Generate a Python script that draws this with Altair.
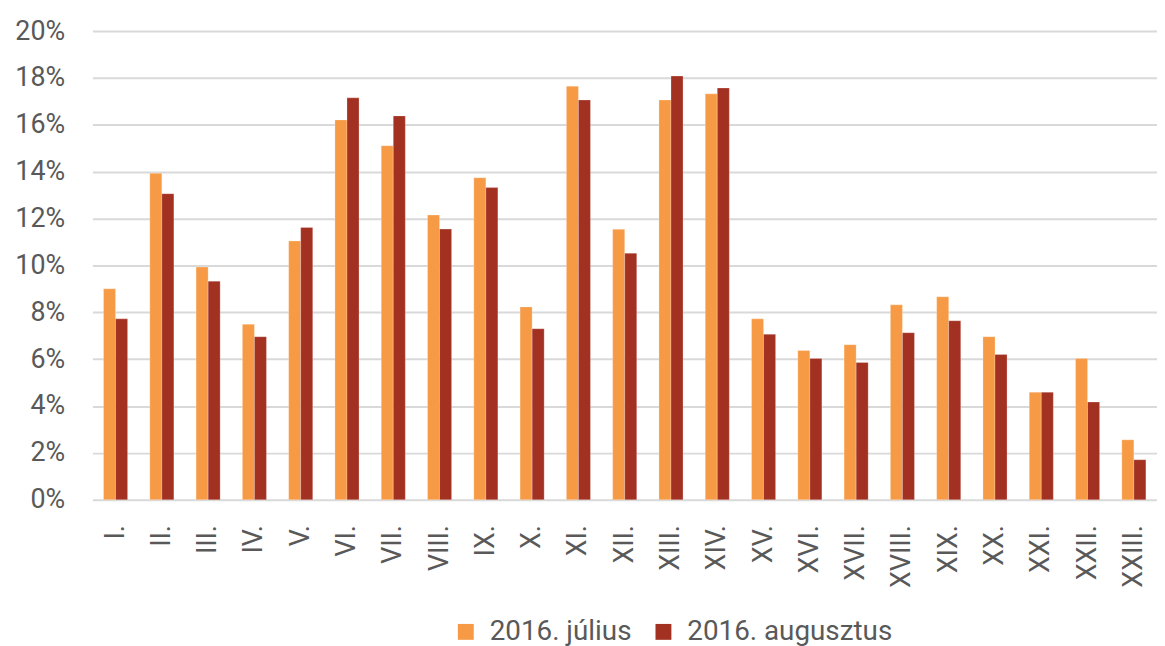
import altair as alt
import pandas as pd

categories = ["I.", "II.", "III.", "IV.", "V.", "VI.", "VII.", "VIII.", "IX.", "X.",
              "XI.", "XII.", "XIII.", "XIV.", "XV.", "XVI.", "XVII.", "XVIII.", "XIX.",
              "XX.", "XXI.", "XXII.", "XXIII."]
julius = [9.0, 13.93, 9.93, 7.49, 11.04, 16.21, 15.11, 12.15, 13.74, 8.23,
          17.65, 11.54, 17.06, 17.32, 7.72, 6.37, 6.62, 8.32, 8.66,
          6.96, 4.59, 6.03, 2.56]
augusztus = [7.72, 13.06, 9.33, 6.96, 11.62, 17.15, 16.38, 11.55, 13.32, 7.30,
             17.06, 10.52, 18.08, 17.57, 7.06, 6.03, 5.86, 7.13, 7.64,
             6.20, 4.59, 4.17, 1.71]
series = ["2016. július", "2016. augusztus"]
colors = ["#F79A46", "#A33121"]
y_ticks = [0, 0.02, 0.04, 0.06, 0.08, 0.10, 0.12, 0.14, 0.16, 0.18, 0.20]

rows = []
for i, c in enumerate(categories):
    rows.append({"kerulet": c, "sorozat": series[0], "ertek": julius[i] / 100})
    rows.append({"kerulet": c, "sorozat": series[1], "ertek": augusztus[i] / 100})
df = pd.DataFrame(rows)

FONT = "Roboto"
TXT = "#595959"

chart = alt.Chart(df).mark_bar(stroke="#ffffff", strokeWidth=0.4, strokeOpacity=0.6).encode(
    x=alt.X("kerulet:N", sort=categories, title=None,
            scale=alt.Scale(paddingInner=0.48, paddingOuter=0.24),
            axis=alt.Axis(labelAngle=-90, labelFont=FONT, labelFontSize=27,
                          labelColor=TXT, labelPadding=25, ticks=False, domain=False,
                          grid=False)),
    xOffset=alt.XOffset("sorozat:N", sort=series),
    y=alt.Y("ertek:Q", title=None,
            scale=alt.Scale(domain=[0, 0.2], nice=False),
            axis=alt.Axis(values=y_ticks, format=".0%", labelFont=FONT, labelFontSize=27,
                          labelColor=TXT, labelPadding=28, ticks=False, domain=False,
                          gridColor="#d9d9d9", gridWidth=2)),
    color=alt.Color("sorozat:N", sort=series,
                    scale=alt.Scale(domain=series, range=colors),
                    legend=alt.Legend(title=None, orient="none", direction="horizontal",
                                      legendX=362, legendY=591, symbolType="square",
                                      symbolSize=256, symbolStrokeWidth=0,
                                      labelFont=FONT, labelFontSize=28, labelColor=TXT,
                                      labelLimit=500, labelOffset=10, columnPadding=18,
                                      padding=0)),
).properties(
    width=1072, height=472,
    autosize=alt.AutoSizeParams(type="none"),
    padding={"left": 85, "top": 21, "right": 0, "bottom": 145},
).configure_view(stroke=None)

chart.save("out.html", embed_options={"renderer": "svg", "actions": False})
